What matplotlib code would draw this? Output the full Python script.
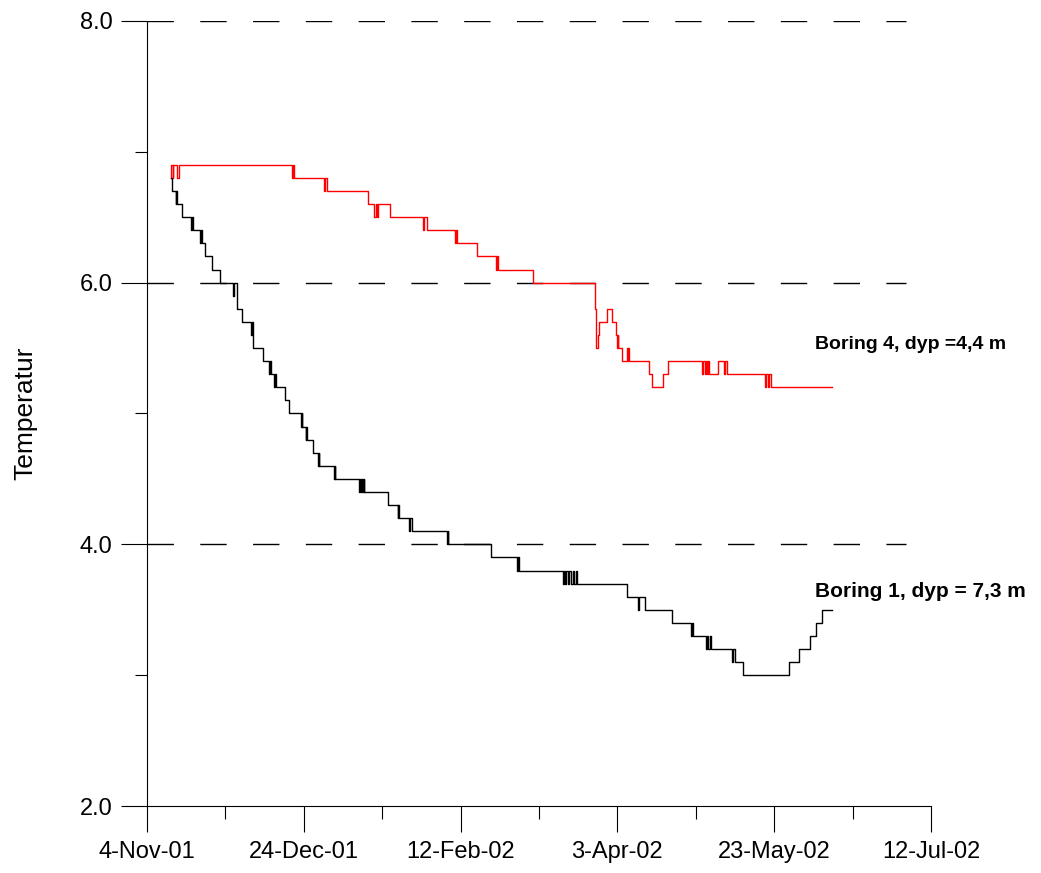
import numpy as np
import pandas as pd
import matplotlib
matplotlib.use("Agg")
import matplotlib.pyplot as plt
import matplotlib.ticker as mticker

# days after 4-Nov-01 where the reading changes, and the new reading (step data)
start = pd.Timestamp("2001-11-04")

b1_days = [7.5, 7.9, 9.2, 9.4, 9.6, 11.2, 14.0, 14.3, 14.6, 15.0, 16.9, 17.2, 17.5,
           18.5, 20.7, 23.3, 27.4, 27.7, 28.8, 30.3, 33.1, 33.4, 33.7, 33.9, 36.9,
           39.0, 39.2, 39.4, 40.6, 40.9, 41.2, 41.5, 44.0, 45.4, 49.1, 49.3, 49.4,
           50.6, 50.8, 51.1, 52.8, 54.6, 54.7, 54.8, 59.6, 59.9, 60.1, 60.3,
           67.6, 67.9, 68.2, 68.5, 68.8, 69.1, 69.3, 76.9, 79.9, 80.2, 80.5, 80.9,
           83.6, 83.8, 84.4, 95.6, 95.9, 96.1, 109.6, 117.9, 118.2, 118.6,
           132.7, 133.0, 133.4, 133.7, 134.3, 134.7, 135.2, 135.7, 136.2, 136.7, 137.2,
           153.2, 156.7, 157.0, 158.8, 167.4, 173.5, 173.8, 174.1,
           178.2, 178.6, 179.0, 179.5, 180.0, 180.6, 186.4, 187.0, 187.5, 190.1,
           204.8, 208.0, 211.4, 213.3, 215.3, 218.3]
b1_vals = [6.8, 6.7, 6.6, 6.7, 6.6, 6.5, 6.4, 6.5, 6.4, 6.4, 6.3, 6.4, 6.3,
           6.2, 6.1, 6.0, 5.9, 6.0, 5.8, 5.7, 5.6, 5.7, 5.6, 5.5, 5.4,
           5.3, 5.4, 5.3, 5.2, 5.3, 5.2, 5.2, 5.1, 5.0, 4.9, 5.0, 4.9,
           4.8, 4.9, 4.8, 4.7, 4.6, 4.7, 4.6, 4.5, 4.6, 4.5, 4.5,
           4.4, 4.5, 4.4, 4.5, 4.4, 4.5, 4.4, 4.3, 4.2, 4.3, 4.2, 4.2,
           4.1, 4.2, 4.1, 4.0, 4.1, 4.0, 3.9, 3.8, 3.9, 3.8,
           3.7, 3.8, 3.7, 3.8, 3.7, 3.8, 3.7, 3.8, 3.7, 3.8, 3.7,
           3.6, 3.5, 3.6, 3.5, 3.4, 3.3, 3.4, 3.3,
           3.2, 3.3, 3.2, 3.3, 3.2, 3.2, 3.1, 3.2, 3.1, 3.0,
           3.1, 3.2, 3.3, 3.4, 3.5, 3.5]

b4_days = [7.5, 7.6, 8.2, 8.4, 9.7, 10.2, 46.1, 46.5, 46.8, 47.2, 56.5, 56.9, 57.3,
           70.4, 72.5, 72.9, 73.3, 73.7, 74.3, 77.5, 87.9, 88.2, 89.4,
           98.2, 98.5, 98.8, 105.3, 111.3, 111.6, 112.0, 123.0,
           142.9, 143.2, 143.9, 144.2, 144.6, 146.6, 148.4, 149.5, 149.8, 150.1, 150.3,
           151.4, 153.0, 153.3, 153.5, 153.7, 160.2, 161.1, 164.4, 166.1,
           176.9, 177.3, 177.8, 178.3, 178.6, 179.0, 179.3, 182.2, 184.0, 184.4, 184.9,
           197.1, 197.5, 198.0, 198.5, 198.9, 218.3]
b4_vals = [6.8, 6.9, 6.8, 6.9, 6.8, 6.9, 6.8, 6.9, 6.8, 6.8, 6.7, 6.8, 6.7,
           6.6, 6.5, 6.6, 6.5, 6.6, 6.6, 6.5, 6.4, 6.5, 6.4,
           6.3, 6.4, 6.3, 6.2, 6.1, 6.2, 6.1, 6.0,
           5.8, 5.5, 5.6, 5.7, 5.7, 5.8, 5.7, 5.6, 5.5, 5.6, 5.5,
           5.4, 5.5, 5.4, 5.5, 5.4, 5.3, 5.2, 5.3, 5.4,
           5.3, 5.4, 5.3, 5.4, 5.3, 5.4, 5.3, 5.4, 5.3, 5.4, 5.3,
           5.2, 5.3, 5.2, 5.3, 5.2, 5.2]

label_b4 = "Boring 4, dyp =4,4 m"
label_b1 = "Boring 1, dyp = 7,3 m"
ylabel = "Temperatur"

plt.rcParams['font.family'] = ['Liberation Sans', 'DejaVu Sans']

fig = plt.figure(figsize=(10.41, 8.73), dpi=100)
ax = fig.add_axes([0.1412, 0.0767, 0.7531, 0.8993])

d1 = start + pd.to_timedelta(b1_days, unit="D")
d4 = start + pd.to_timedelta(b4_days, unit="D")

# dashed lines at 4, 6, 8
for yv in [4.0, 6.0, 8.0]:
    ax.axhline(yv, xmin=0, xmax=(906 - 147) / 784, color="black", lw=1.0,
               dashes=(19, 19), zorder=1)

ax.step(d4, b4_vals, where="post", color="red", lw=1.0, zorder=3)
ax.step(d1, b1_vals, where="post", color="black", lw=1.0, zorder=3)

ax.set_xlim(start, start + pd.Timedelta(days=250))
ax.set_ylim(2.0, 8.0)

major_x = [start + pd.Timedelta(days=d) for d in range(0, 251, 50)]
minor_x = [start + pd.Timedelta(days=d) for d in range(25, 251, 50)]
ax.set_xticks(major_x)
ax.set_xticks(minor_x, minor=True)
ax.set_xticklabels([f"{t.day}-{t.strftime('%b-%y')}" for t in major_x])

ax.set_yticks([2.0, 4.0, 6.0, 8.0])
ax.set_yticks([3.0, 5.0, 7.0], minor=True)
ax.yaxis.set_major_formatter(mticker.FormatStrFormatter("%.1f"))

ax.tick_params(which="major", length=19, width=0.8, labelsize=17, direction="out", pad=6)
ax.tick_params(which="minor", length=9, width=0.8, direction="out")

for s in ["top", "right"]:
    ax.spines[s].set_visible(False)
for s in ["left", "bottom"]:
    ax.spines[s].set_linewidth(0.8)

ax.set_ylabel(ylabel, fontsize=19, labelpad=30)

ax.text(start + pd.Timedelta(days=213), 5.53, label_b4, fontsize=14,
        fontweight="bold", va="center", ha="left")
ax.text(start + pd.Timedelta(days=213), 3.64, label_b1, fontsize=15,
        fontweight="bold", va="center", ha="left", clip_on=False)

fig.savefig("out.png", dpi=100)
